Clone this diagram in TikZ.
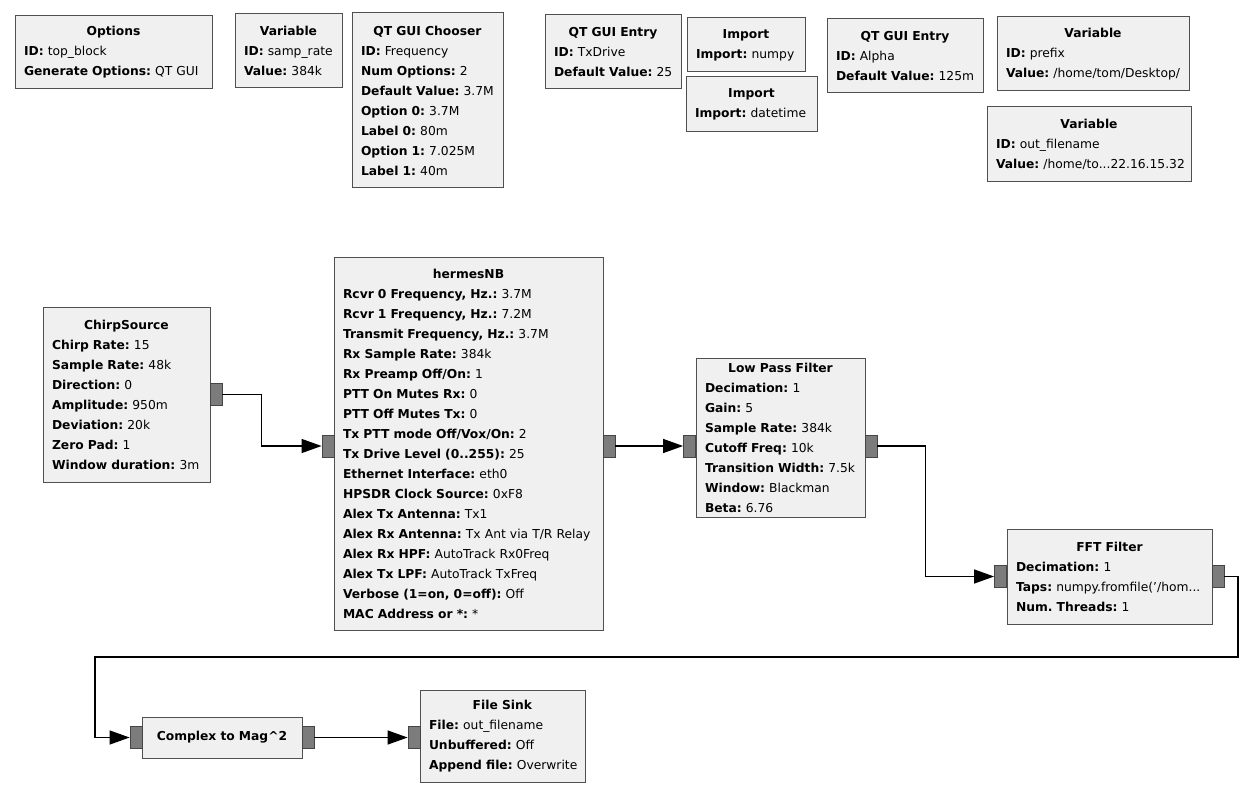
\documentclass[tikz,border=0pt]{standalone}
\usepackage{fontspec}
\setmainfont{DejaVu Sans}
\usetikzlibrary{arrows.meta}
\definecolor{boxfill}{HTML}{F0F0F0}
\definecolor{boxline}{HTML}{505050}
\definecolor{portfill}{HTML}{7C7C7C}
\definecolor{portline}{HTML}{454545}
\newcommand\gkv[2]{\mbox{\textbf{#1:} #2}}
\newcommand\gtitle[1]{{\centering\textbf{#1}\par}}
\frenchspacing
\begin{document}
\begin{tikzpicture}[x=1pt,y=-1pt,
  blk/.style={draw=boxline, fill=boxfill, line width=1pt, inner xsep=9pt, inner ysep=0pt,
    align=left, font=\fontsize{12.3}{20}\selectfont\frenchspacing},
  port/.style={draw=portline, fill=portfill, line width=0.8pt, minimum width=12pt,
    minimum height=22pt, inner sep=0pt},
  wire/.style={line width=1.3pt, -{Triangle[length=20pt,width=14pt]}}]
\fill[white] (0,0) rectangle (1242,786);
\useasboundingbox (0,0) rectangle (1242,786);

% top row
\node[blk, text width=179pt, minimum height=73pt] (opts) at (113.5,52.5)
  {\gtitle{Options}\gkv{ID}{top\_block}\\\gkv{Generate Options}{QT GUI}};
\node[blk, text width=89pt, minimum height=74pt] (var1) at (288.5,51)
  {\gtitle{Variable}\gkv{ID}{samp\_rate}\\\gkv{Value}{384k}};
\node[blk, text width=133pt, minimum height=175pt] (chooser) at (427.5,100.5)
  {\gtitle{QT GUI Chooser}\gkv{ID}{Frequency}\\\gkv{Num Options}{2}\\\gkv{Default Value}{3.7M}\\
   \gkv{Option 0}{3.7M}\\\gkv{Label 0}{80m}\\\gkv{Option 1}{7.025M}\\\gkv{Label 1}{40m}};
\node[blk, text width=118pt, minimum height=74pt] (entry1) at (613,52)
  {\gtitle{QT GUI Entry}\gkv{ID}{TxDrive}\\\gkv{Default Value}{25}};
\node[blk, text width=100pt, minimum height=54pt] (imp1) at (746,45)
  {\gtitle{Import}\gkv{Import}{numpy}};
\node[blk, text width=113pt, minimum height=55pt] (imp2) at (751.5,104.5)
  {\gtitle{Import}\gkv{Import}{datetime}};
\node[blk, text width=138pt, minimum height=74pt] (entry2) at (905,56)
  {\gtitle{QT GUI Entry}\gkv{ID}{Alpha}\\\gkv{Default Value}{125m}};
\node[blk, text width=174pt, minimum height=74pt] (var2) at (1093,54)
  {\gtitle{Variable}\gkv{ID}{prefix}\\\gkv{Value}{/home/tom/Desktop/}};
\node[blk, text width=186pt, minimum height=75pt] (var3) at (1089,144.5)
  {\gtitle{Variable}\gkv{ID}{out\_filename}\\\gkv{Value}{/home/to...22.16.15.32}};

% flow graph blocks
\node[blk, text width=149pt, minimum height=174pt] (chirp) at (126.5,395)
  {\gtitle{ChirpSource}\gkv{Chirp Rate}{15}\\\gkv{Sample Rate}{48k}\\\gkv{Direction}{0}\\
   \gkv{Amplitude}{950m}\\\gkv{Deviation}{20k}\\\gkv{Zero Pad}{1}\\\gkv{Window duration}{3m}};
\node[blk, text width=251pt, minimum height=372pt] (hermes) at (468.5,444)
  {\gtitle{hermesNB}\gkv{Rcvr 0 Frequency, Hz.}{3.7M}\\\gkv{Rcvr 1 Frequency, Hz.}{7.2M}\\
   \gkv{Transmit Frequency, Hz.}{3.7M}\\\gkv{Rx Sample Rate}{384k}\\\gkv{Rx Preamp Off/On}{1}\\
   \gkv{PTT On Mutes Rx}{0}\\\gkv{PTT Off Mutes Tx}{0}\\\gkv{Tx PTT mode Off/Vox/On}{2}\\
   \gkv{Tx Drive Level (0..255)}{25}\\\gkv{Ethernet Interface}{eth0}\\\gkv{HPSDR Clock Source}{0xF8}\\
   \gkv{Alex Tx Antenna}{Tx1}\\\gkv{Alex Rx Antenna}{Tx Ant via T/R Relay}\\
   \gkv{Alex Rx HPF}{AutoTrack Rx0Freq}\\\gkv{Alex Tx LPF}{AutoTrack TxFreq}\\
   \gkv{Verbose (1=on, 0=off)}{Off}\\\gkv{MAC Address or *}{*}};
\node[blk, text width=151pt, minimum height=159pt] (lpf) at (780.5,437.5)
  {\gtitle{Low Pass Filter}\gkv{Decimation}{1}\\\gkv{Gain}{5}\\\gkv{Sample Rate}{384k}\\
   \gkv{Cutoff Freq}{10k}\\\gkv{Transition Width}{7.5k}\\\gkv{Window}{Blackman}\\\gkv{Beta}{6.76}};
\node[blk, text width=187pt, minimum height=95pt] (fft) at (1109.5,576.5)
  {\gtitle{FFT Filter}\gkv{Decimation}{1}\\\gkv{Taps}{numpy.fromfile('/hom...}\\\gkv{Num. Threads}{1}};
\node[blk, text width=142pt, minimum height=41pt] (c2m) at (222,737.5)
  {\gtitle{Complex to Mag\textasciicircum2}};
\node[blk, text width=147pt, minimum height=92pt] (sink) at (502.5,736)
  {\gtitle{File Sink}\gkv{File}{out\_filename}\\\gkv{Unbuffered}{Off}\\\gkv{Append file}{Overwrite}};

% ports
\node[port] (chirpo) at (216,394.5) {};
\node[port] (hermi) at (328,446) {};
\node[port] (hermo) at (609,446) {};
\node[port] (lpfi) at (689.5,446) {};
\node[port] (lpfo) at (871,446) {};
\node[port] (ffti) at (1000.5,576.5) {};
\node[port] (ffto) at (1218,576.5) {};
\node[port] (c2mi) at (136,737.5) {};
\node[port] (c2mo) at (308,737.5) {};
\node[port] (sinki) at (414,737.5) {};

% connections
\coordinate (r1) at (1238,657);
\coordinate (l1) at (95,657);
\draw[wire] (chirpo.east) -- ([xshift=39pt]chirpo.east) |- (hermi.west);
\draw[wire] (hermo.east) -- (lpfi.west);
\draw[wire] (lpfo.east) -- ([xshift=48pt]lpfo.east) |- (ffti.west);
\draw[wire] (ffto.east) -| (r1) -- (l1) |- (c2mi.west);
\draw[wire] (c2mo.east) -- (sinki.west);
\end{tikzpicture}
\end{document}
